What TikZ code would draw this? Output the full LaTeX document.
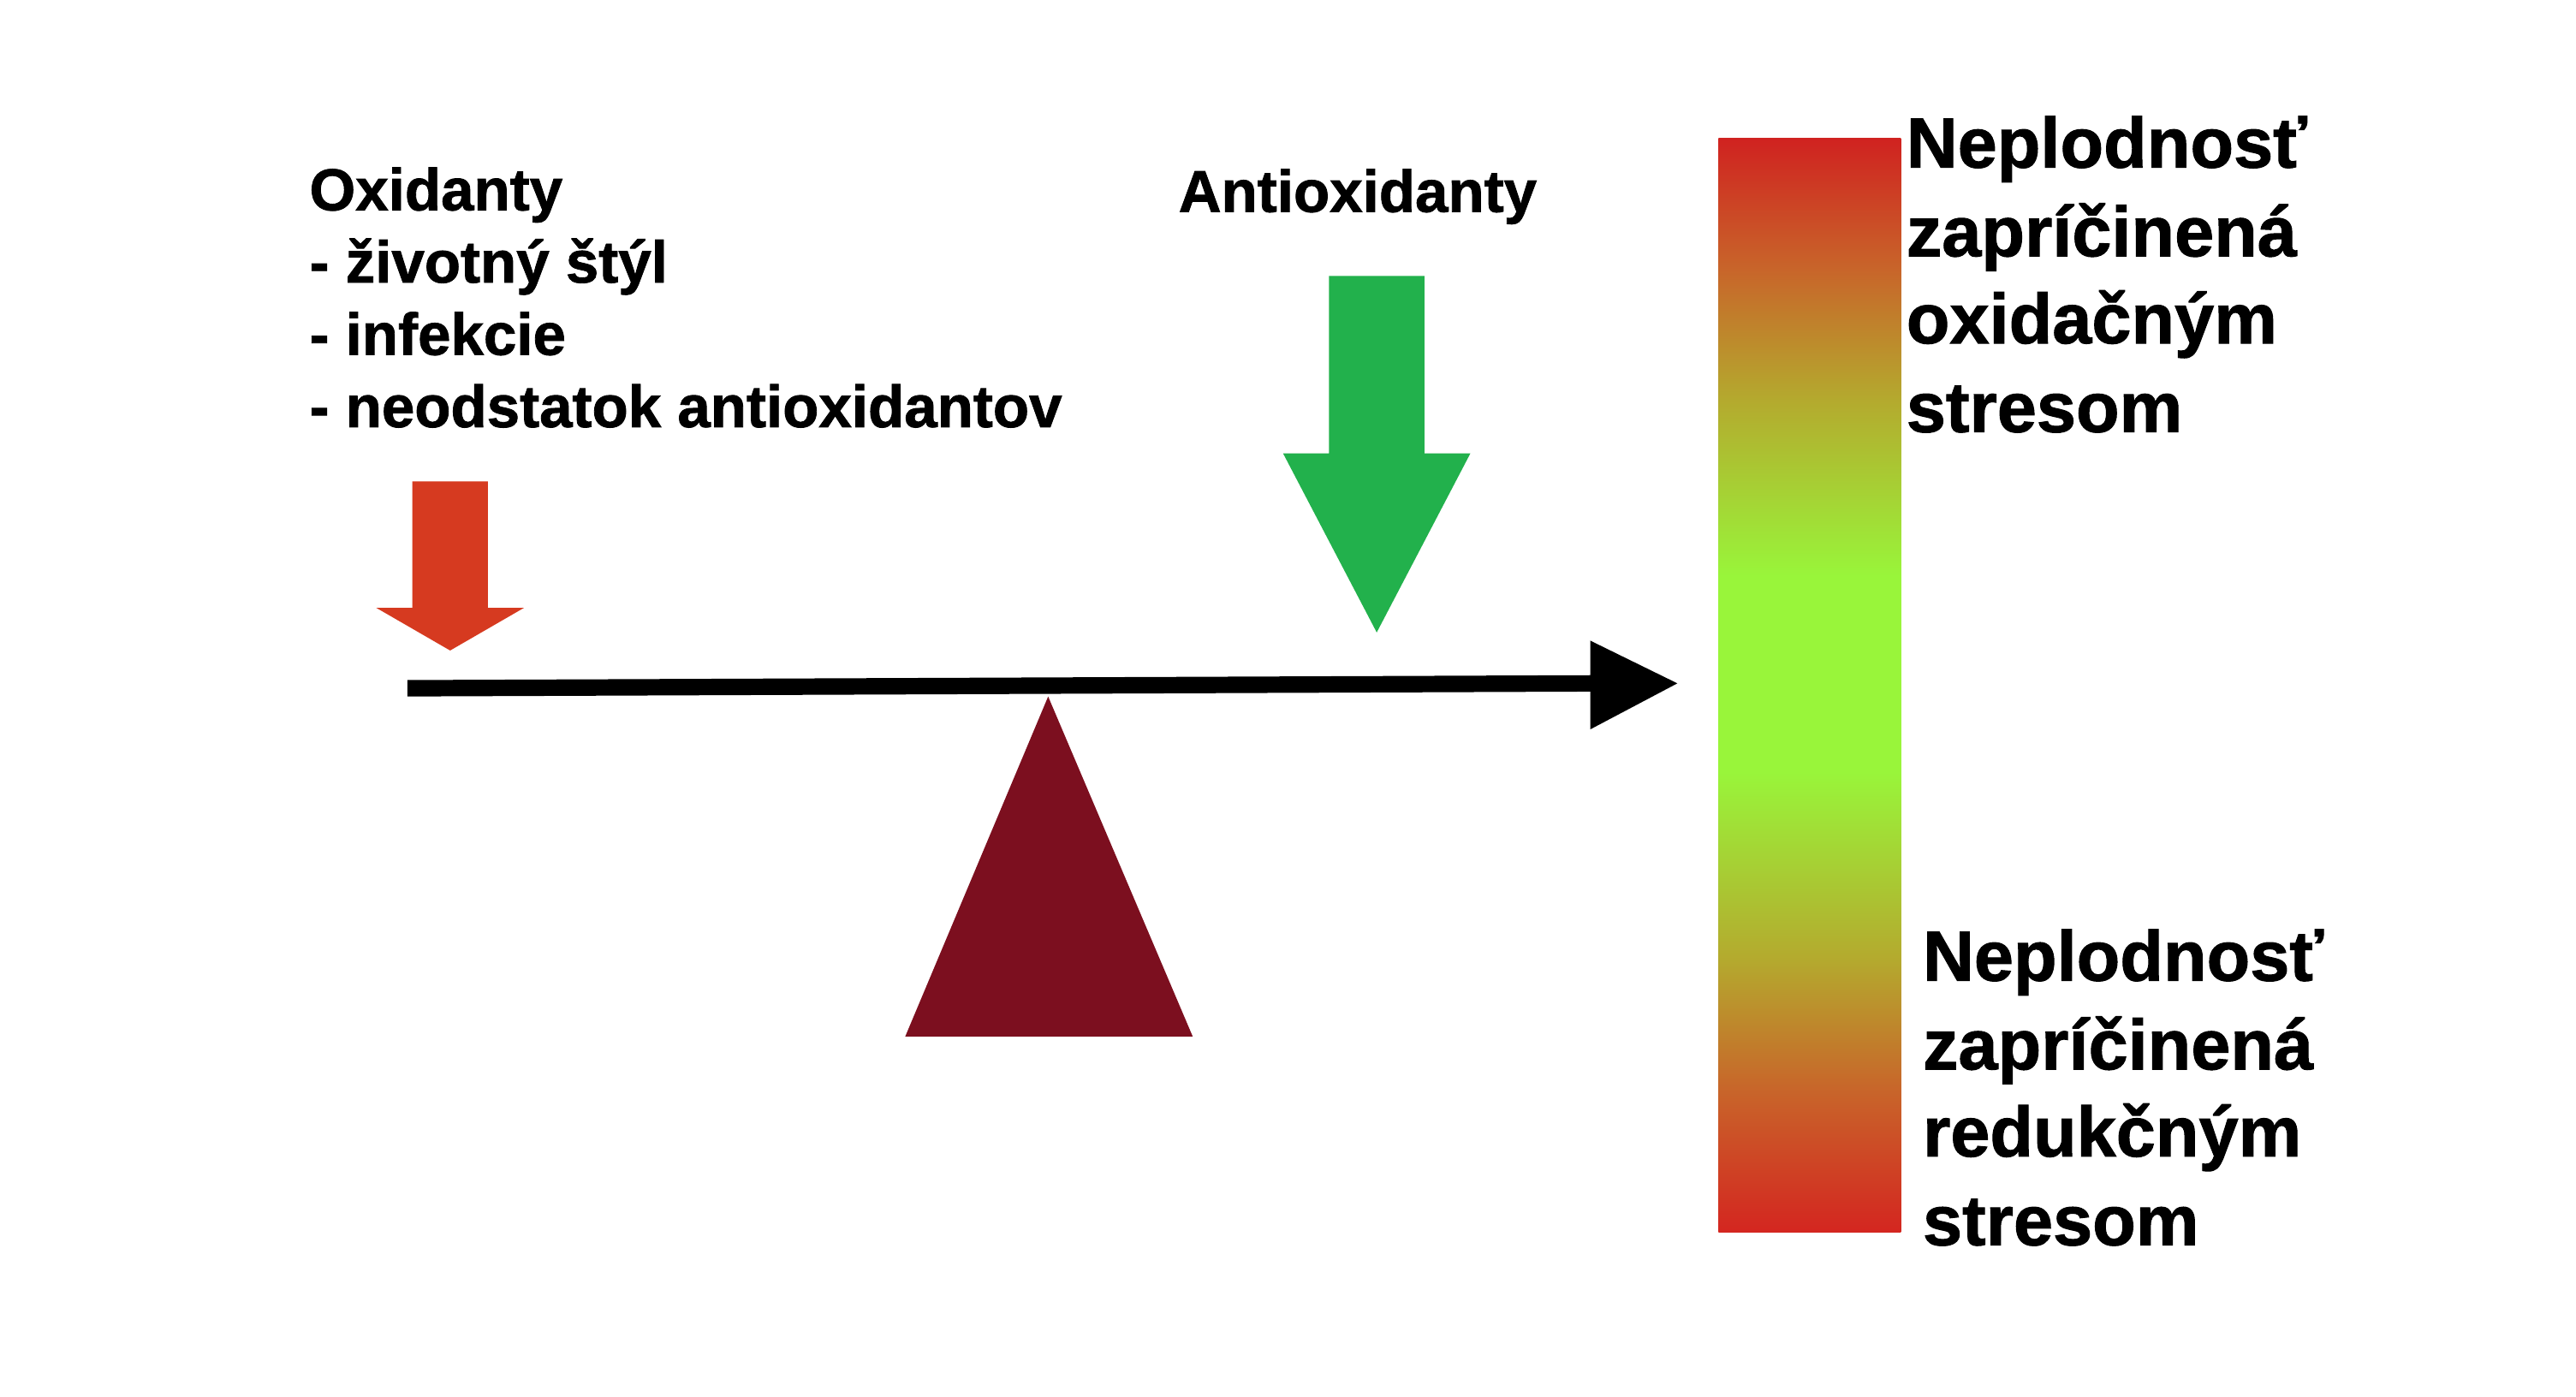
\documentclass[tikz,border=0pt]{standalone}
\usepackage{fontspec}
\setmainfont[BoldFeatures={FakeBold=1.2}]{Liberation Sans}
\definecolor{barredA}{HTML}{D02220}
\definecolor{barorange}{HTML}{C8652A}
\definecolor{barolive}{HTML}{B4AA2E}
\definecolor{bargreen}{HTML}{99F53A}
\definecolor{barredB}{HTML}{D42620}
\definecolor{oxred}{HTML}{D63A20}
\definecolor{antigreen}{HTML}{22B14C}
\definecolor{fulcrum}{HTML}{7C0F1F}
\pgfdeclareverticalshading{barshade}{100bp}{%
  color(0bp)=(barredB); color(25bp)=(barredB); color(31.5bp)=(barorange);
  color(37.5bp)=(barolive); color(46bp)=(bargreen); color(55bp)=(bargreen);
  color(63bp)=(barolive); color(69bp)=(barorange); color(75bp)=(barredA);
  color(100bp)=(barredA)}
\begin{document}
\begin{tikzpicture}[x=0.5pt,y=-0.5pt,
  lefttext/.style={anchor=base west,inner sep=0pt,font=\bfseries\fontsize{18}{22}\selectfont},
  righttext/.style={anchor=base west,inner sep=0pt,font=\bfseries\fontsize{21.6}{27}\selectfont}]
\useasboundingbox[fill=white] (0,0) rectangle (1568,850);
% colour bar
\shade[shading=barshade] (1046,84) rectangle (1157,750);
% beam
\coordinate (beamL) at (248,419);
\coordinate (beamR) at (972,416);
\coordinate (tip) at (1021,416);
\draw[line width=5pt] (beamL) -- (beamR);
\fill (968,390) -- (tip) -- (968,444) -- cycle;
% fulcrum
\fill[fulcrum] (638,424) -- (551,631) -- (726,631) -- cycle;
% oxidant arrow
\fill[oxred] (251,293) -- (297,293) -- (297,370) -- (319,370) -- (274,396) -- (229,370) -- (251,370) -- cycle;
% antioxidant arrow
\fill[antigreen] (809,168) -- (867,168) -- (867,276) -- (895,276) -- (838,385) -- (781,276) -- (809,276) -- cycle;
% left texts
\node[lefttext] (ox) at (188,128) {Oxidanty};
\node[lefttext] (ox1) at (188,172) {- životný štýl};
\node[lefttext] (ox2) at (188,216) {- infekcie};
\node[lefttext] (ox3) at (188,260) {- neodstatok antioxidantov};
\node[lefttext] (anti) at (717,129) {Antioxidanty};
% right texts
\node[righttext] (t1) at (1160,102) {Neplodnosť};
\node[righttext] (t2) at (1160,156) {zapríčinená};
\node[righttext] (t3) at (1160,209) {oxidačným};
\node[righttext] (t4) at (1160,263) {stresom};
\node[righttext] (b1) at (1170,597) {Neplodnosť};
\node[righttext] (b2) at (1170,651) {zapríčinená};
\node[righttext] (b3) at (1170,704) {redukčným};
\node[righttext] (b4) at (1170,758) {stresom};
\end{tikzpicture}
\end{document}
